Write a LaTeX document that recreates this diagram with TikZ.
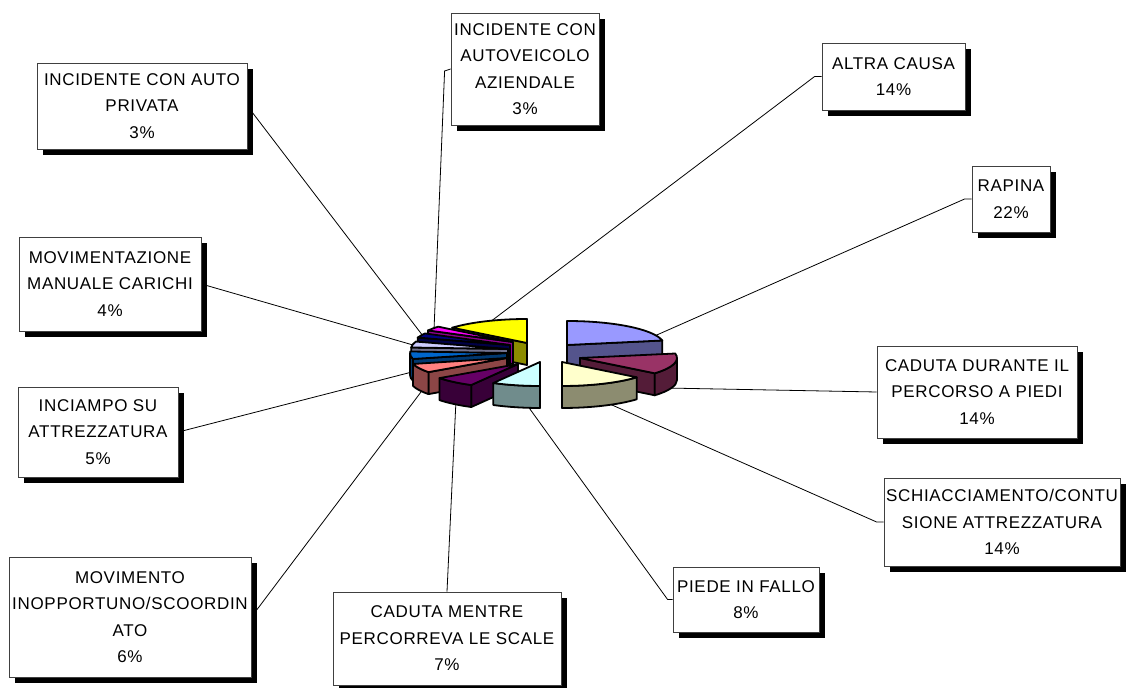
\documentclass[tikz,border=0pt]{standalone}
\usepackage{fontspec}
\setmainfont{Liberation Sans}[LetterSpace=4]
\usetikzlibrary{shadows}
\pgfdeclarelayer{background}
\pgfsetlayers{background,main}

\definecolor{cRapina}{HTML}{9999FF}
\definecolor{cPercorso}{HTML}{993366}
\definecolor{cSchiacc}{HTML}{FFFFCC}
\definecolor{cPiede}{HTML}{CCFFFF}
\definecolor{cScale}{HTML}{660066}
\definecolor{cMovim}{HTML}{FF8080}
\definecolor{cInciampo}{HTML}{0066CC}
\definecolor{cCarichi}{HTML}{CCCCFF}
\definecolor{cPrivata}{HTML}{000080}
\definecolor{cAziend}{HTML}{FF00FF}
\definecolor{cAltra}{HTML}{FFFF00}

% top of a slice: vertex x, y, start angle, end angle, colour
\newcommand{\slicetop}[5]{\filldraw[slice,fill=#5] (#1,#2) -- ++(#3:97 and 24) arc[start angle=#3,end angle=#4,x radius=97,y radius=24] -- cycle;}
% curved side of a slice
\newcommand{\sideband}[5]{\filldraw[slice,fill=#5!55!black] (#1,#2) ++(#3:97 and 24) arc[start angle=#3,end angle=#4,x radius=97,y radius=24] -- ++(0,-22) arc[start angle=#4,end angle=#3,x radius=97,y radius=24] -- cycle;}
% flat cut side of a slice
\newcommand{\sideface}[4]{\filldraw[slice,fill=#4!55!black] (#1,#2) -- ++(#3:97 and 24) -- ++(0,-22) -- ++(#3+180:97 and 24) -- cycle;}

\begin{document}
\begin{tikzpicture}[x=1pt, y=1pt,
    box/.style={draw=black!75, line width=0.8pt, fill=white, align=center, inner sep=0pt,
        font=\fontsize{17}{26.5}\selectfont,
        drop shadow={shadow xshift=6pt, shadow yshift=-6pt, opacity=1, fill=black}},
    slice/.style={draw=black, line width=1.8pt, line join=round},
    leader/.style={draw=black, line width=0.8pt}]
    \useasboundingbox (0,0) rectangle (1133,688);

    % labels
    \node[box, minimum width=210pt, minimum height=86pt] (privata) at (142,582) {INCIDENTE CON AUTO\\PRIVATA\\3\%};
    \node[box, minimum width=148pt, minimum height=112pt] (aziendale) at (525,619) {INCIDENTE CON\\AUTOVEICOLO\\AZIENDALE\\3\%};
    \node[box, minimum width=143pt, minimum height=67pt] (altra) at (893.5,611.5) {ALTRA CAUSA\\14\%};
    \node[box, minimum width=78pt, minimum height=66pt] (rapina) at (1011,489) {RAPINA\\22\%};
    \node[box, minimum width=200pt, minimum height=92pt] (percorso) at (977,296) {CADUTA DURANTE IL\\PERCORSO A PIEDI\\14\%};
    \node[box, minimum width=236pt, minimum height=88pt] (schiacc) at (1002,166) {SCHIACCIAMENTO/CONTU\\SIONE ATTREZZATURA\\14\%};
    \node[box, minimum width=146pt, minimum height=65pt] (piede) at (746,88.5) {PIEDE IN FALLO\\8\%};
    \node[box, minimum width=228pt, minimum height=93pt] (scale) at (447,49.5) {CADUTA MENTRE\\PERCORREVA LE SCALE\\7\%};
    \node[box, minimum width=242pt, minimum height=120pt] (movim) at (130,71) {MOVIMENTO\\INOPPORTUNO/SCOORDIN\\ATO\\6\%};
    \node[box, minimum width=160pt, minimum height=90pt] (inciampo) at (98,256) {INCIAMPO SU\\ATTREZZATURA\\5\%};
    \node[box, minimum width=182pt, minimum height=94pt] (carichi) at (110,404) {MOVIMENTAZIONE\\MANUALE CARICHI\\4\%};

    % ends of the leader lines on the pie
    \coordinate (e-privata) at (423,352);
    \coordinate (e-aziendale) at (434,358);
    \coordinate (e-altra) at (490,366);
    \coordinate (e-rapina) at (650,350);
    \coordinate (e-percorso) at (665,300);
    \coordinate (e-schiacc) at (612,283);
    \coordinate (e-piede) at (527,283);
    \coordinate (e-scale) at (456,288);
    \coordinate (e-movim) at (424,300);
    \coordinate (e-inciampo) at (412,316);
    \coordinate (e-carichi) at (413,343);

    \begin{pgfonlayer}{background}
    \draw[leader] (privata.east) -- (e-privata);
    \draw[leader] (aziendale.west) -- ++(-6,-2) -- (e-aziendale);
    \draw[leader] (altra.west) -- ++(-7,0) -- (e-altra);
    \draw[leader] (rapina.west) -- ++(-7,0) -- (e-rapina);
    \draw[leader] (percorso.west) -- (e-percorso);
    \draw[leader] (schiacc.west) -- ++(-7,0) -- (e-schiacc);
    \draw[leader] (piede.west) -- ++(-5,0) -- (e-piede);
    \draw[leader] (scale.north) -- (e-scale);
    \draw[leader] (movim.east) -- (e-movim);
    \draw[leader] (inciampo.east) -- (e-inciampo);
    \draw[leader] (carichi.east) -- (e-carichi);
    \end{pgfonlayer}

    % pie, back to front
    \sideface{527}{345}{140.4}{cAltra}
    \slicetop{527}{345}{140.4}{90}{cAltra}
    \sideface{567}{343}{10.8}{cRapina}
    \slicetop{567}{343}{90}{10.8}{cRapina}
    \sideface{513}{346}{151.2}{cAziend}
    \slicetop{513}{346}{151.2}{140.4}{cAziend}
    \sideface{510}{343}{162}{cPrivata}
    \slicetop{510}{343}{162}{151.2}{cPrivata}
    \sideface{508}{339}{176.4}{cCarichi}
    \slicetop{508}{339}{176.4}{162}{cCarichi}
    \sideface{507}{335}{-165.6}{cInciampo}
    \sideband{507}{335}{-165.6}{-180}{cInciampo}
    \slicetop{507}{335}{-165.6}{-183.6}{cInciampo}
    \sideface{507}{330}{-144}{cMovim}
    \sideband{507}{330}{-144}{-165.6}{cMovim}
    \slicetop{507}{330}{-144}{-165.6}{cMovim}
    \sideface{518}{324}{-118.8}{cScale}
    \sideband{518}{324}{-118.8}{-144}{cScale}
    \slicetop{518}{324}{-118.8}{-144}{cScale}
    \sideface{580}{330}{-39.6}{cPercorso}
    \sideband{580}{330}{0}{-39.6}{cPercorso}
    \slicetop{580}{330}{10.8}{-39.6}{cPercorso}
    \sideband{562}{326}{-39.6}{-90}{cSchiacc}
    \slicetop{562}{326}{-39.6}{-90}{cSchiacc}
    \sideband{540}{326}{-90}{-118.8}{cPiede}
    \slicetop{540}{326}{-90}{-118.8}{cPiede}
\end{tikzpicture}
\end{document}
